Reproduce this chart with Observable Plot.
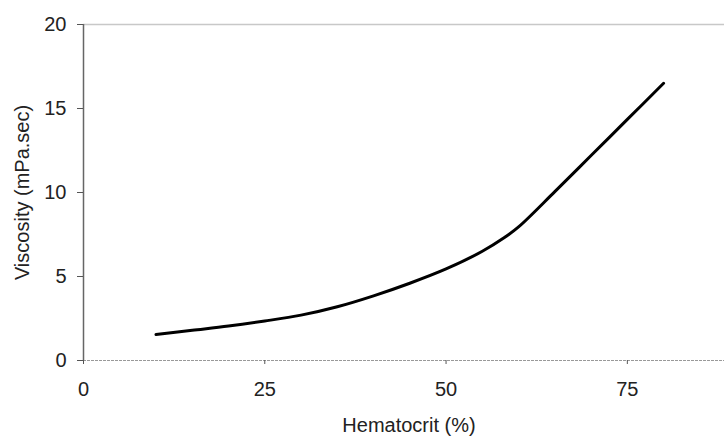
<!DOCTYPE html>
<html>
<head>
<meta charset="utf-8">
<script src="https://cdn.jsdelivr.net/npm/d3@7"></script>
<script src="https://cdn.jsdelivr.net/npm/@observablehq/plot@0.6"></script>
<style>
  html, body { margin: 0; padding: 0; background: #fff; }
  #chart svg { display: block; }
</style>
</head>
<body>
<div id="chart"></div>
<script>
const hematocrit = [10, 15, 20, 25, 30, 35, 40, 45, 50, 55, 58, 60, 65, 70, 75, 80];
const viscosity  = [1.55, 1.8, 2.05, 2.35, 2.7, 3.2, 3.85, 4.6, 5.45, 6.5, 7.3, 7.95, 10.05, 12.2, 14.35, 16.5];
const xTicks = [0, 25, 50, 75];
const yTicks = [0, 5, 10, 15, 20];
const xLabel = "Hematocrit (%)";
const yLabel = "Viscosity (mPa.sec)";

const data = hematocrit.map((h, i) => ({h, v: viscosity[i]}));

const chart = Plot.plot({
  width: 724,
  height: 437,
  marginLeft: 83,
  marginRight: 0,
  marginTop: 24,
  marginBottom: 77,
  style: {fontFamily: "'Liberation Sans', Arial, sans-serif", fontSize: "20px", color: "#222", background: "#fff"},
  x: {domain: [0, 88.4]},
  y: {domain: [0, 20]},
  marks: [
    Plot.ruleY([20], {stroke: "#c8c8c8", strokeWidth: 1.5}),
    Plot.ruleY([0], {stroke: "#999", strokeWidth: 1.2, strokeDasharray: "3,1"}),
    Plot.ruleX([0], {stroke: "#666", strokeWidth: 1.5}),
    Plot.axisX({ticks: xTicks, tickSize: 4, tickPadding: 17, stroke: "#555", label: null, fontSize: 20}),
    Plot.axisY({ticks: yTicks, tickSize: 6, tickPadding: 11, stroke: "#555", label: null, fontSize: 20}),
    Plot.line(data, {x: "h", y: "v", stroke: "#000", strokeWidth: 3, curve: "catmull-rom"}),
    Plot.text([xLabel], {frameAnchor: "bottom", textAnchor: "middle", lineAnchor: "middle", dx: 5, dy: 65, fontSize: 20, fill: "#222"}),
    Plot.text([yLabel], {frameAnchor: "left", textAnchor: "middle", lineAnchor: "middle", rotate: -90, dx: -61, fontSize: 20, fill: "#222"})
  ]
});
document.getElementById("chart").appendChild(chart);
</script>
</body>
</html>
